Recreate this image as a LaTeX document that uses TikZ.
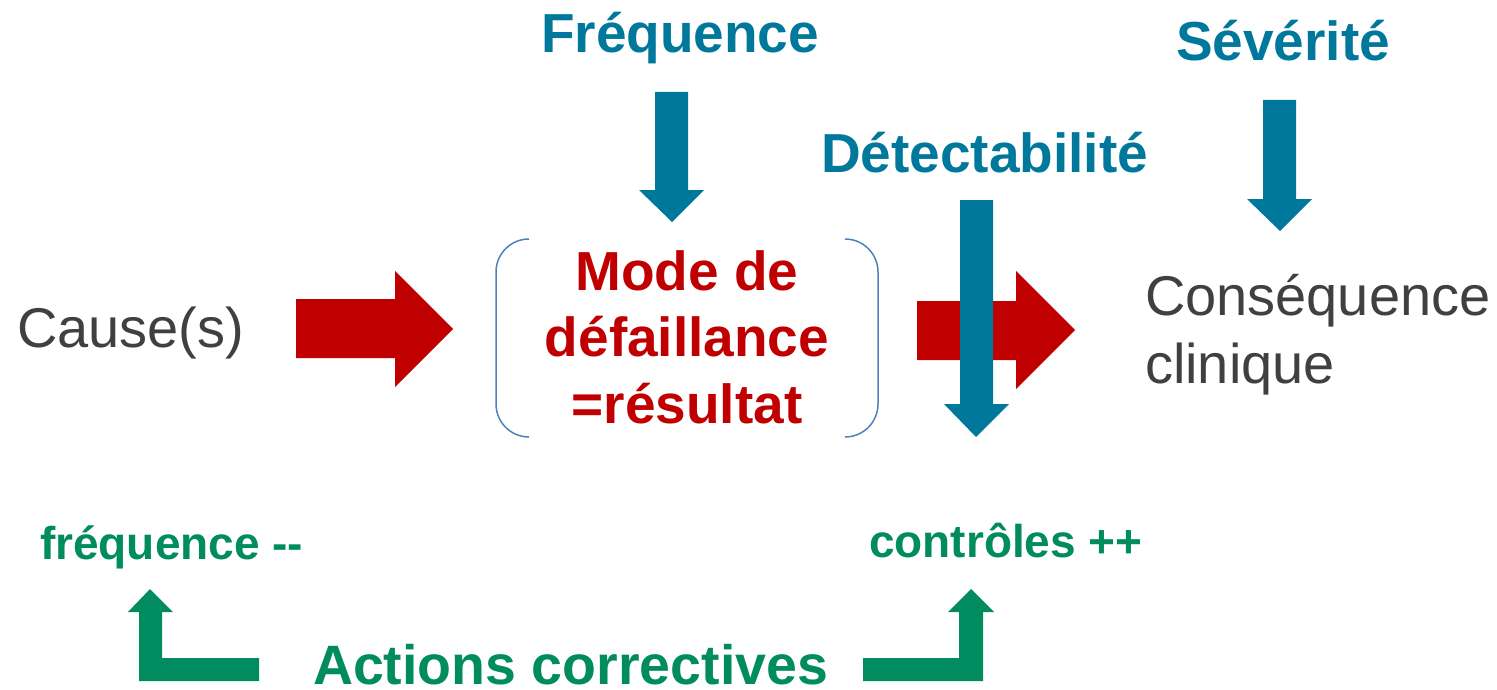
\documentclass[tikz,border=0pt]{standalone}
\usepackage{fontspec}
\setmainfont{Liberation Sans}
\definecolor{tealblue}{HTML}{00789B}
\definecolor{darkred}{HTML}{C00000}
\definecolor{greenx}{HTML}{008C5F}
\definecolor{grayt}{HTML}{404040}
\definecolor{bracketblue}{HTML}{4F81BD}
\tikzset{
  lbl/.style={inner sep=0pt, outer sep=0pt},
  bigbold/.style={lbl, font=\fontsize{55}{66.5}\selectfont\bfseries},
  smallbold/.style={lbl, font=\fontsize{46}{55}\selectfont\bfseries},
  plain/.style={lbl, font=\fontsize{56}{68}\selectfont, text=grayt},
  bluearrow/.style={fill=tealblue, draw=none},
  redarrow/.style={fill=darkred, draw=none},
  greenarrow/.style={fill=greenx, draw=none},
  bracketline/.style={draw=bracketblue, line width=1.5pt, rounded corners=33pt}
}
\begin{document}
\begin{tikzpicture}[x=1pt, y=-1pt]
\useasboundingbox (0,0) rectangle (1497,690);

% titles
\node[bigbold, text=tealblue, anchor=base west] (freq) at (541,53) {Fréquence};
\node[bigbold, text=tealblue, anchor=base west] (sev) at (1176,61) {Sévérité};
\node[bigbold, text=tealblue, anchor=base west] (det) at (821,172) {Détectabilité};

% main texts
\node[plain, anchor=base west] (cause) at (17,347) {Cause(s)};
\node[plain, anchor=base west, align=left] (cons) at (1145,383) {Conséquence\\clinique};
\node[bigbold, text=darkred, anchor=base, align=center] (mode) at (687,423) {Mode de\\défaillance\\=résultat};

% bracket box
\draw[bracketline] (529,239) -- (496,239) -- (496,437) -- (529,437);
\draw[bracketline] (845,239) -- (878,239) -- (878,437) -- (845,437);

% red arrows
\fill[redarrow] (296,299) -- (395,299) -- (395,271) -- (453,329) -- (395,387) -- (395,358) -- (296,358) -- cycle;
\fill[redarrow] (917,301) -- (1016,301) -- (1016,271) -- (1075,330) -- (1016,389) -- (1016,360) -- (917,360) -- cycle;

% blue arrows
\fill[bluearrow] (655,92) -- (688,92) -- (688,190) -- (704,190) -- (672,222) -- (639,190) -- (655,190) -- cycle;
\fill[bluearrow] (1263,100) -- (1296,100) -- (1296,199) -- (1312,199) -- (1280,231) -- (1247,199) -- (1263,199) -- cycle;
\fill[bluearrow] (960,200) -- (993,200) -- (993,404) -- (1009,404) -- (976,437) -- (944,404) -- (960,404) -- cycle;

% green texts
\node[smallbold, text=greenx, anchor=base west] (fm) at (40,559) {fréquence {-}{-}};
\node[smallbold, text=greenx, anchor=base west] (cp) at (869,557) {contrôles ++};
\node[lbl, font=\fontsize{55.5}{66}\selectfont\bfseries, text=greenx, text depth=0pt, anchor=base west] (act) at (313,684) {Actions correctives};

% green arrows
\fill[greenarrow] (259,658) -- (162,658) -- (162,612) -- (173,612) -- (150,589) -- (128,612) -- (139,612) -- (139,681) -- (259,681) -- cycle;
\fill[greenarrow] (863,658) -- (959,658) -- (959,612) -- (948,612) -- (971,589) -- (994,612) -- (983,612) -- (983,681) -- (863,681) -- cycle;
\end{tikzpicture}
\end{document}
